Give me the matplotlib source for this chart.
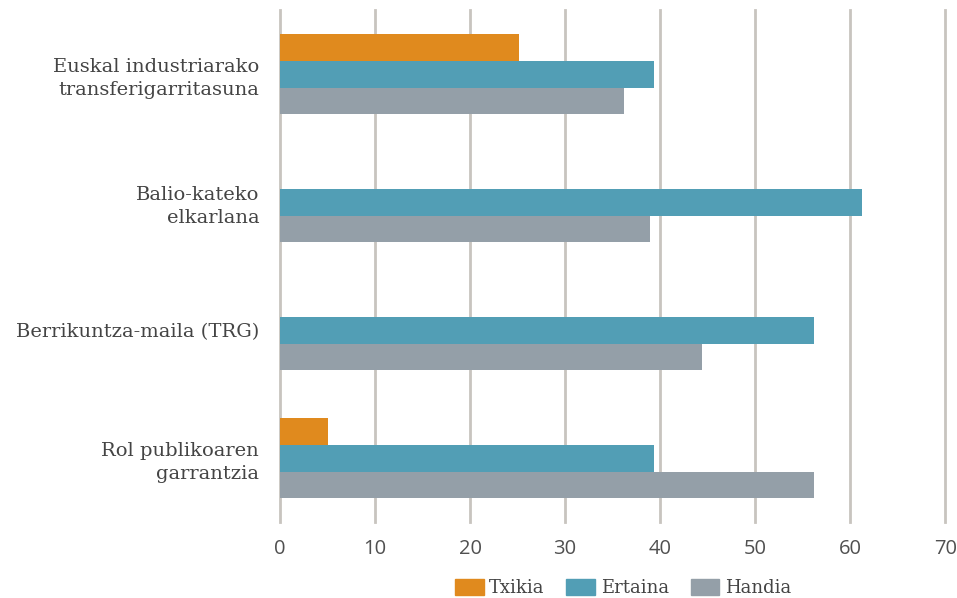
import matplotlib
matplotlib.use("Agg")
import matplotlib.pyplot as plt
import numpy as np
from matplotlib.patches import Patch

categories = ["Euskal industriarako\ntransferigarritasuna", "Balio-kateko\nelkarlana",
              "Berrikuntza-maila (TRG)", "Rol publikoaren\ngarrantzia"]
series = ["Txikia", "Ertaina", "Handia"]
txikia = [25.2, 0, 0, 5.1]
ertaina = [39.4, 61.2, 56.2, 39.4]
handia = [36.2, 38.9, 44.4, 56.2]
colors = ["#E08A1E", "#529EB5", "#949FA8"]
xticks = [0, 10, 20, 30, 40, 50, 60, 70]

fig = plt.figure(figsize=(9.57, 5.98), dpi=100)
ax = fig.add_axes([0.2926, 0.127, 0.695, 0.856])

y = np.arange(len(categories))
h = 0.21
vals = [txikia, ertaina, handia]
for i, (v, c) in enumerate(zip(vals, colors)):
    ax.barh(y + (i - 1) * h, v, height=h, color=c, zorder=3)

ax.set_ylim(len(categories) - 0.5, -0.5)
ax.set_xlim(0, 70)
ax.set_xticks(xticks)
ax.set_xticklabels([str(t) for t in xticks], fontsize=14.5, color="#505050",
                   family=["Open Sans", "DejaVu Sans"])
ax.set_yticks(y)
ax.set_yticklabels(categories, fontsize=14, color="#444444",
                   family=["DejaVu Serif"], linespacing=1.35)
for lbl in ax.get_yticklabels():
    lbl.set_horizontalalignment("right")
ax.tick_params(axis="both", length=0)
ax.tick_params(axis="y", pad=15)
ax.tick_params(axis="x", pad=12)
ax.grid(axis="x", color="#C8C4BF", linewidth=2, zorder=0)
for gl in ax.get_xgridlines():
    gl.set_clip_on(False)
for s in ax.spines.values():
    s.set_visible(False)

handles = [Patch(color=c, label=s) for s, c in zip(series, colors)]
leg = fig.legend(handles=handles, loc="center", bbox_to_anchor=(0.651, 0.017),
                 ncol=3, frameon=False, handlelength=1.6, handleheight=1.0,
                 handletextpad=0.3, columnspacing=1.2,
                 prop={"family": "DejaVu Serif", "size": 13})
for t in leg.get_texts():
    t.set_color("#444444")

fig.savefig("out.png", dpi=100)
